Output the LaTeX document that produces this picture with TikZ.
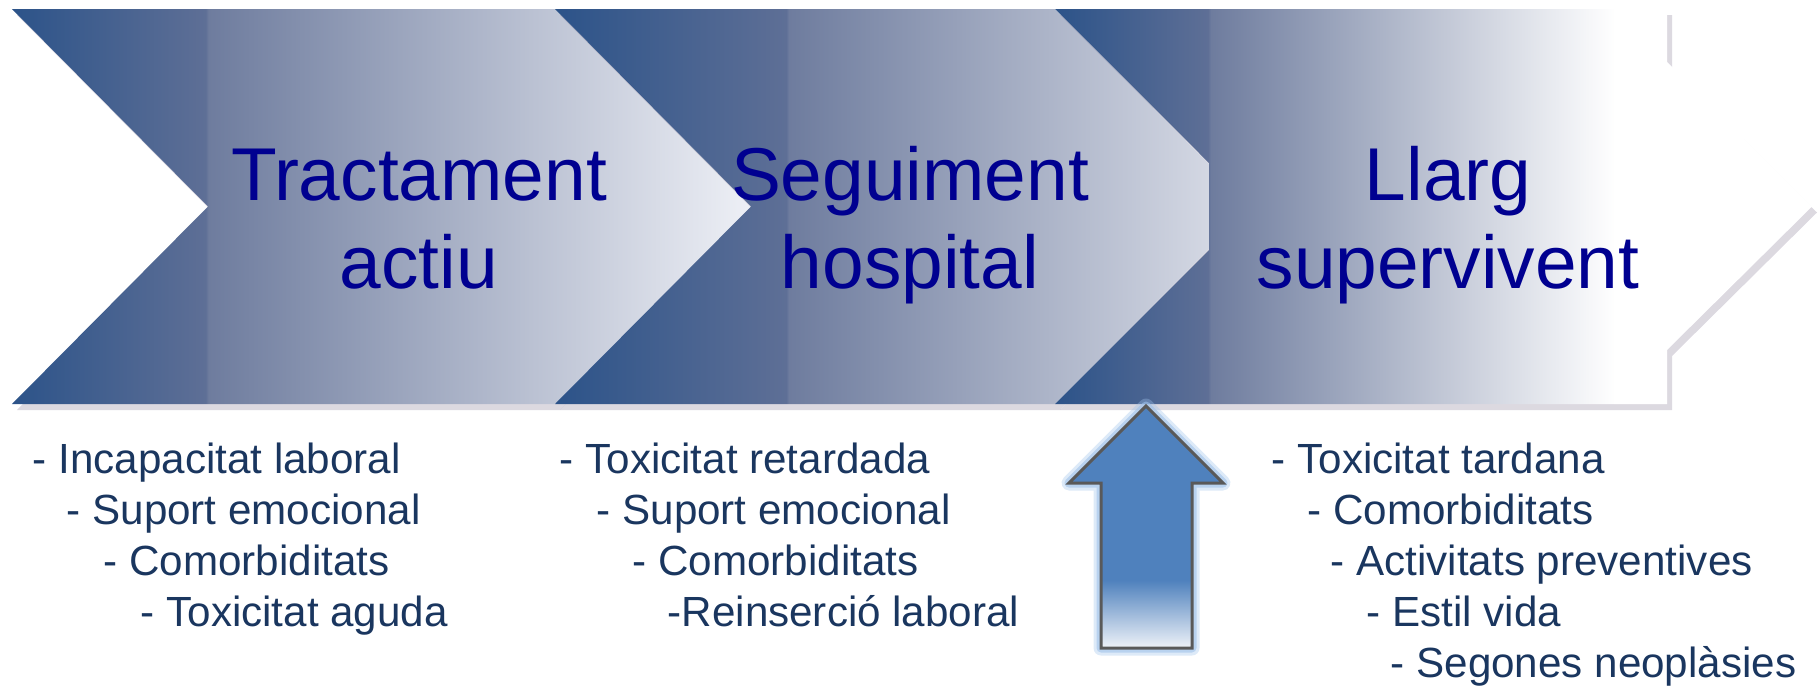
\documentclass[tikz,border=0pt]{standalone}
\usepackage{fontspec}
\setmainfont{Liberation Sans}
\usetikzlibrary{shadows}

\definecolor{chevdark}{HTML}{2C5389}
\definecolor{chevmid}{HTML}{5E6F96}
\definecolor{chevstep}{HTML}{6E7C9E}
\definecolor{chevlight}{HTML}{EEF0F6}
\definecolor{chevend}{HTML}{D5D9E4}
\definecolor{chevshadow}{HTML}{8C8099}
\definecolor{titleblue}{HTML}{000090}
\definecolor{itemblue}{HTML}{1A365F}
\definecolor{arrowblue}{HTML}{4F81BD}
\definecolor{arrowpale}{HTML}{EEF2F8}
\definecolor{arrowglow}{HTML}{9FC2EA}
\definecolor{arrowline}{HTML}{595959}

\pgfdeclarehorizontalshading{chevA}{100bp}{color(0bp)=(chevdark); color(25bp)=(chevdark); color(38.1bp)=(chevmid); color(38.3bp)=(chevstep); color(75bp)=(chevlight); color(100bp)=(chevlight)}
\pgfdeclarehorizontalshading{chevB}{100bp}{color(0bp)=(chevdark); color(25bp)=(chevdark); color(41.6bp)=(chevmid); color(41.8bp)=(chevstep); color(72.5bp)=(chevend); color(100bp)=(chevlight)}
\pgfdeclarehorizontalshading{chevC}{100bp}{color(0bp)=(chevdark); color(25bp)=(chevdark); color(35.1bp)=(chevmid); color(35.3bp)=(chevstep); color(62bp)=(white); color(100bp)=(white)}
\pgfdeclareverticalshading{arrowfade}{100bp}{color(0bp)=(arrowpale); color(25bp)=(arrowpale); color(39bp)=(arrowblue); color(100bp)=(arrowblue)}

\tikzset{
  chevron/.style={drop shadow={shadow xshift=0.05cm, shadow yshift=-0.06cm, fill=chevshadow, opacity=0.3}},
  title/.style={font=\fontsize{21.3}{25}\selectfont, text=titleblue, anchor=base, inner sep=0pt},
  item/.style={font=\fontsize{12}{14}\selectfont, text=itemblue, anchor=base west, inner sep=0pt}
}

\begin{document}
\begin{tikzpicture}
  \useasboundingbox (0,0) rectangle (18.20,6.86);

  % chevrons
  \shade[chevron, shading=chevA] (0.12,6.77) -- (5.55,6.77) -- (7.51,4.795) -- (5.55,2.82) -- (0.12,2.82) -- (2.08,4.795) -- cycle;
  \shade[chevron, shading=chevB] (5.55,6.77) -- (10.55,6.77) -- (12.51,4.795) -- (10.55,2.82) -- (5.55,2.82) -- (7.51,4.795) -- cycle;
  \shade[chevron, shading=chevC] (10.55,6.77) -- (16.67,6.77) -- (16.67,6.24) -- (18.12,4.795) -- (16.67,3.36) -- (16.67,2.82) -- (10.55,2.82) -- (12.09,4.36) -- (12.09,5.23) -- cycle;

  \node[title] (trac) at (4.19,4.86) {Tractament};
  \node[title] (actiu) at (4.19,3.98) {actiu};
  \node[title] (segu) at (9.10,4.86) {Seguiment};
  \node[title] (hosp) at (9.10,3.98) {hospital};
  \node[title] (llarg) at (14.48,4.86) {Llarg};
  \node[title] (superv) at (14.48,3.98) {supervivent};

  % up arrow
  \coordinate (tip) at (11.46,2.80);
  \coordinate (hr) at (12.23,2.03);
  \coordinate (sr) at (11.92,2.03);
  \coordinate (br) at (11.92,0.38);
  \coordinate (bl) at (11.01,0.38);
  \coordinate (sl) at (11.01,2.03);
  \coordinate (hl) at (10.69,2.03);
  \draw[arrowglow, opacity=0.35, line width=0.15cm, line join=round] (tip) -- (hr) -- (sr) -- (br) -- (bl) -- (sl) -- (hl) -- cycle;
  \draw[arrowglow, opacity=0.6, line width=0.09cm, line join=round] (tip) -- (hr) -- (sr) -- (br) -- (bl) -- (sl) -- (hl) -- cycle;
  \shade[shading=arrowfade, draw=arrowline, line width=0.03cm] (tip) -- (hr) -- (sr) -- (br) -- (bl) -- (sl) -- (hl) -- cycle;

  % lists
  \foreach \x/\y/\txt [count=\i] in {0.32/2.13/- Incapacitat laboral, 0.66/1.62/- Suport emocional,
      1.03/1.11/- Comorbiditats, 1.40/0.60/- Toxicitat aguda}
    \node[item] (act\i) at (\x,\y) {\txt};
  \foreach \x/\y/\txt [count=\i] in {5.59/2.13/- Toxicitat retardada, 5.96/1.62/- Suport emocional,
      6.32/1.11/- Comorbiditats, 6.67/0.60/-Reinserció laboral}
    \node[item] (hos\i) at (\x,\y) {\txt};
  \foreach \x/\y/\txt [count=\i] in {12.71/2.13/- Toxicitat tardana, 13.07/1.62/- Comorbiditats,
      13.30/1.11/- Activitats preventives, 13.66/0.60/- Estil vida, 13.90/0.09/- Segones neoplàsies}
    \node[item] (sup\i) at (\x,\y) {\txt};
\end{tikzpicture}
\end{document}
